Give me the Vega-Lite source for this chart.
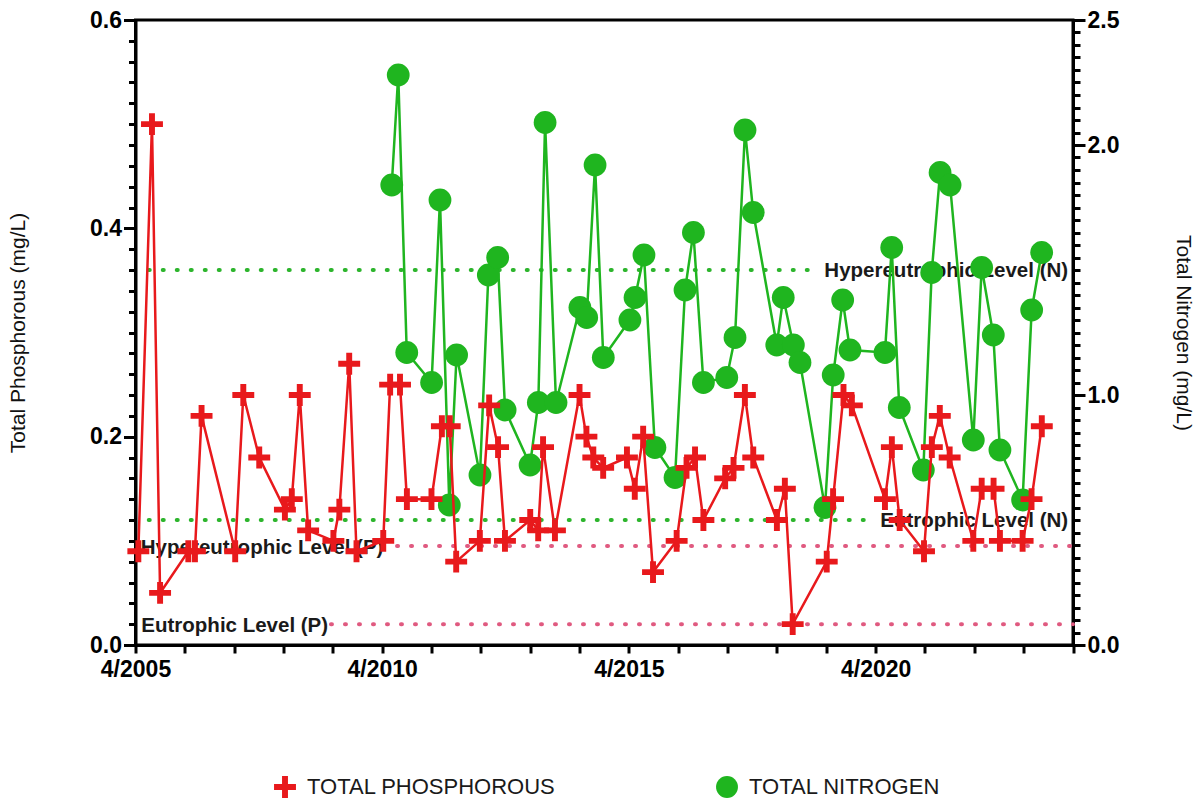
{
  "$schema": "https://vega.github.io/schema/vega-lite/v6.json",
  "width": 937.5,
  "height": 625,
  "autosize": {"type": "none"},
  "padding": {"left": 135.5, "top": 20, "right": 124.5, "bottom": 157},
  "background": "white",
  "config": {
    "font": "Liberation Sans",
    "view": {"stroke": "black", "strokeWidth": 3},
    "axis": {"grid": false},
    "legend": {
      "labelFontSize": 22,
      "labelFont": "Liberation Sans",
      "labelColor": "#1a1a1a",
      "symbolSize": 480,
      "columnPadding": 160,
      "labelOffset": 11,
      "padding": 0,
      "symbolStrokeWidth": 0,
      "labelLimit": 400
    }
  },
  "datasets": {
    "P": [
      {"date": "2005-04-22", "tp": 0.09, "s": "TOTAL PHOSPHOROUS"},
      {"date": "2005-08-01", "tp": 0.50, "s": "TOTAL PHOSPHOROUS"},
      {"date": "2005-09-30", "tp": 0.05, "s": "TOTAL PHOSPHOROUS"},
      {"date": "2006-04-27", "tp": 0.09, "s": "TOTAL PHOSPHOROUS"},
      {"date": "2006-06-15", "tp": 0.09, "s": "TOTAL PHOSPHOROUS"},
      {"date": "2006-08-03", "tp": 0.22, "s": "TOTAL PHOSPHOROUS"},
      {"date": "2007-04-09", "tp": 0.09, "s": "TOTAL PHOSPHOROUS"},
      {"date": "2007-06-08", "tp": 0.24, "s": "TOTAL PHOSPHOROUS"},
      {"date": "2007-10-04", "tp": 0.18, "s": "TOTAL PHOSPHOROUS"},
      {"date": "2008-04-11", "tp": 0.13, "s": "TOTAL PHOSPHOROUS"},
      {"date": "2008-06-01", "tp": 0.14, "s": "TOTAL PHOSPHOROUS"},
      {"date": "2008-07-30", "tp": 0.24, "s": "TOTAL PHOSPHOROUS"},
      {"date": "2008-09-30", "tp": 0.11, "s": "TOTAL PHOSPHOROUS"},
      {"date": "2009-04-05", "tp": 0.10, "s": "TOTAL PHOSPHOROUS"},
      {"date": "2009-05-19", "tp": 0.13, "s": "TOTAL PHOSPHOROUS"},
      {"date": "2009-07-31", "tp": 0.27, "s": "TOTAL PHOSPHOROUS"},
      {"date": "2009-09-23", "tp": 0.09, "s": "TOTAL PHOSPHOROUS"},
      {"date": "2010-04-09", "tp": 0.10, "s": "TOTAL PHOSPHOROUS"},
      {"date": "2010-05-30", "tp": 0.25, "s": "TOTAL PHOSPHOROUS"},
      {"date": "2010-08-11", "tp": 0.25, "s": "TOTAL PHOSPHOROUS"},
      {"date": "2010-10-01", "tp": 0.14, "s": "TOTAL PHOSPHOROUS"},
      {"date": "2011-04-01", "tp": 0.14, "s": "TOTAL PHOSPHOROUS"},
      {"date": "2011-06-17", "tp": 0.21, "s": "TOTAL PHOSPHOROUS"},
      {"date": "2011-08-14", "tp": 0.21, "s": "TOTAL PHOSPHOROUS"},
      {"date": "2011-10-01", "tp": 0.08, "s": "TOTAL PHOSPHOROUS"},
      {"date": "2012-03-24", "tp": 0.10, "s": "TOTAL PHOSPHOROUS"},
      {"date": "2012-06-01", "tp": 0.23, "s": "TOTAL PHOSPHOROUS"},
      {"date": "2012-08-06", "tp": 0.19, "s": "TOTAL PHOSPHOROUS"},
      {"date": "2012-09-26", "tp": 0.10, "s": "TOTAL PHOSPHOROUS"},
      {"date": "2013-04-01", "tp": 0.12, "s": "TOTAL PHOSPHOROUS"},
      {"date": "2013-05-30", "tp": 0.11, "s": "TOTAL PHOSPHOROUS"},
      {"date": "2013-07-05", "tp": 0.19, "s": "TOTAL PHOSPHOROUS"},
      {"date": "2013-10-01", "tp": 0.11, "s": "TOTAL PHOSPHOROUS"},
      {"date": "2014-04-01", "tp": 0.24, "s": "TOTAL PHOSPHOROUS"},
      {"date": "2014-05-22", "tp": 0.20, "s": "TOTAL PHOSPHOROUS"},
      {"date": "2014-07-12", "tp": 0.18, "s": "TOTAL PHOSPHOROUS"},
      {"date": "2014-09-23", "tp": 0.17, "s": "TOTAL PHOSPHOROUS"},
      {"date": "2015-03-18", "tp": 0.18, "s": "TOTAL PHOSPHOROUS"},
      {"date": "2015-05-15", "tp": 0.15, "s": "TOTAL PHOSPHOROUS"},
      {"date": "2015-07-16", "tp": 0.20, "s": "TOTAL PHOSPHOROUS"},
      {"date": "2015-09-27", "tp": 0.07, "s": "TOTAL PHOSPHOROUS"},
      {"date": "2016-03-20", "tp": 0.10, "s": "TOTAL PHOSPHOROUS"},
      {"date": "2016-06-01", "tp": 0.17, "s": "TOTAL PHOSPHOROUS"},
      {"date": "2016-08-03", "tp": 0.18, "s": "TOTAL PHOSPHOROUS"},
      {"date": "2016-10-04", "tp": 0.12, "s": "TOTAL PHOSPHOROUS"},
      {"date": "2017-03-14", "tp": 0.16, "s": "TOTAL PHOSPHOROUS"},
      {"date": "2017-05-15", "tp": 0.17, "s": "TOTAL PHOSPHOROUS"},
      {"date": "2017-08-07", "tp": 0.24, "s": "TOTAL PHOSPHOROUS"},
      {"date": "2017-10-08", "tp": 0.18, "s": "TOTAL PHOSPHOROUS"},
      {"date": "2018-04-01", "tp": 0.12, "s": "TOTAL PHOSPHOROUS"},
      {"date": "2018-05-30", "tp": 0.15, "s": "TOTAL PHOSPHOROUS"},
      {"date": "2018-07-27", "tp": 0.02, "s": "TOTAL PHOSPHOROUS"},
      {"date": "2019-04-05", "tp": 0.08, "s": "TOTAL PHOSPHOROUS"},
      {"date": "2019-05-22", "tp": 0.14, "s": "TOTAL PHOSPHOROUS"},
      {"date": "2019-08-07", "tp": 0.24, "s": "TOTAL PHOSPHOROUS"},
      {"date": "2019-10-08", "tp": 0.23, "s": "TOTAL PHOSPHOROUS"},
      {"date": "2020-06-09", "tp": 0.14, "s": "TOTAL PHOSPHOROUS"},
      {"date": "2020-07-30", "tp": 0.19, "s": "TOTAL PHOSPHOROUS"},
      {"date": "2020-09-26", "tp": 0.12, "s": "TOTAL PHOSPHOROUS"},
      {"date": "2021-03-25", "tp": 0.09, "s": "TOTAL PHOSPHOROUS"},
      {"date": "2021-05-22", "tp": 0.19, "s": "TOTAL PHOSPHOROUS"},
      {"date": "2021-07-20", "tp": 0.22, "s": "TOTAL PHOSPHOROUS"},
      {"date": "2021-10-01", "tp": 0.18, "s": "TOTAL PHOSPHOROUS"},
      {"date": "2022-03-25", "tp": 0.10, "s": "TOTAL PHOSPHOROUS"},
      {"date": "2022-05-26", "tp": 0.15, "s": "TOTAL PHOSPHOROUS"},
      {"date": "2022-08-22", "tp": 0.15, "s": "TOTAL PHOSPHOROUS"},
      {"date": "2022-10-08", "tp": 0.10, "s": "TOTAL PHOSPHOROUS"},
      {"date": "2023-03-25", "tp": 0.10, "s": "TOTAL PHOSPHOROUS"},
      {"date": "2023-05-30", "tp": 0.14, "s": "TOTAL PHOSPHOROUS"},
      {"date": "2023-08-14", "tp": 0.21, "s": "TOTAL PHOSPHOROUS"}
    ],
    "N": [
      {"date": "2010-06-11", "tn": 1.84, "s": "TOTAL NITROGEN"},
      {"date": "2010-07-29", "tn": 2.28, "s": "TOTAL NITROGEN"},
      {"date": "2010-09-30", "tn": 1.17, "s": "TOTAL NITROGEN"},
      {"date": "2011-04-02", "tn": 1.05, "s": "TOTAL NITROGEN"},
      {"date": "2011-06-03", "tn": 1.78, "s": "TOTAL NITROGEN"},
      {"date": "2011-08-11", "tn": 0.56, "s": "TOTAL NITROGEN"},
      {"date": "2011-10-04", "tn": 1.16, "s": "TOTAL NITROGEN"},
      {"date": "2012-03-25", "tn": 0.68, "s": "TOTAL NITROGEN"},
      {"date": "2012-05-26", "tn": 1.48, "s": "TOTAL NITROGEN"},
      {"date": "2012-08-03", "tn": 1.55, "s": "TOTAL NITROGEN"},
      {"date": "2012-09-27", "tn": 0.94, "s": "TOTAL NITROGEN"},
      {"date": "2013-03-31", "tn": 0.72, "s": "TOTAL NITROGEN"},
      {"date": "2013-05-31", "tn": 0.97, "s": "TOTAL NITROGEN"},
      {"date": "2013-07-20", "tn": 2.09, "s": "TOTAL NITROGEN"},
      {"date": "2013-10-09", "tn": 0.97, "s": "TOTAL NITROGEN"},
      {"date": "2014-04-04", "tn": 1.35, "s": "TOTAL NITROGEN"},
      {"date": "2014-05-24", "tn": 1.31, "s": "TOTAL NITROGEN"},
      {"date": "2014-07-25", "tn": 1.92, "s": "TOTAL NITROGEN"},
      {"date": "2014-09-24", "tn": 1.15, "s": "TOTAL NITROGEN"},
      {"date": "2015-04-09", "tn": 1.30, "s": "TOTAL NITROGEN"},
      {"date": "2015-05-17", "tn": 1.39, "s": "TOTAL NITROGEN"},
      {"date": "2015-07-22", "tn": 1.56, "s": "TOTAL NITROGEN"},
      {"date": "2015-10-11", "tn": 0.79, "s": "TOTAL NITROGEN"},
      {"date": "2016-03-08", "tn": 0.67, "s": "TOTAL NITROGEN"},
      {"date": "2016-05-21", "tn": 1.42, "s": "TOTAL NITROGEN"},
      {"date": "2016-07-22", "tn": 1.65, "s": "TOTAL NITROGEN"},
      {"date": "2016-10-04", "tn": 1.05, "s": "TOTAL NITROGEN"},
      {"date": "2017-03-26", "tn": 1.07, "s": "TOTAL NITROGEN"},
      {"date": "2017-05-26", "tn": 1.23, "s": "TOTAL NITROGEN"},
      {"date": "2017-08-08", "tn": 2.06, "s": "TOTAL NITROGEN"},
      {"date": "2017-10-08", "tn": 1.73, "s": "TOTAL NITROGEN"},
      {"date": "2018-03-31", "tn": 1.20, "s": "TOTAL NITROGEN"},
      {"date": "2018-05-18", "tn": 1.39, "s": "TOTAL NITROGEN"},
      {"date": "2018-08-01", "tn": 1.20, "s": "TOTAL NITROGEN"},
      {"date": "2018-09-19", "tn": 1.13, "s": "TOTAL NITROGEN"},
      {"date": "2019-03-23", "tn": 0.55, "s": "TOTAL NITROGEN"},
      {"date": "2019-05-23", "tn": 1.08, "s": "TOTAL NITROGEN"},
      {"date": "2019-08-01", "tn": 1.38, "s": "TOTAL NITROGEN"},
      {"date": "2019-09-24", "tn": 1.18, "s": "TOTAL NITROGEN"},
      {"date": "2020-06-09", "tn": 1.17, "s": "TOTAL NITROGEN"},
      {"date": "2020-07-29", "tn": 1.59, "s": "TOTAL NITROGEN"},
      {"date": "2020-09-23", "tn": 0.95, "s": "TOTAL NITROGEN"},
      {"date": "2021-03-20", "tn": 0.70, "s": "TOTAL NITROGEN"},
      {"date": "2021-05-21", "tn": 1.49, "s": "TOTAL NITROGEN"},
      {"date": "2021-07-22", "tn": 1.89, "s": "TOTAL NITROGEN"},
      {"date": "2021-10-04", "tn": 1.84, "s": "TOTAL NITROGEN"},
      {"date": "2022-03-25", "tn": 0.82, "s": "TOTAL NITROGEN"},
      {"date": "2022-05-26", "tn": 1.51, "s": "TOTAL NITROGEN"},
      {"date": "2022-08-20", "tn": 1.24, "s": "TOTAL NITROGEN"},
      {"date": "2022-10-08", "tn": 0.78, "s": "TOTAL NITROGEN"},
      {"date": "2023-03-25", "tn": 0.58, "s": "TOTAL NITROGEN"},
      {"date": "2023-05-31", "tn": 1.34, "s": "TOTAL NITROGEN"},
      {"date": "2023-08-13", "tn": 1.57, "s": "TOTAL NITROGEN"}
    ],
    "pLevels": [
      {"date": "2010-07-20", "end": "2024-04-01", "v": 0.095},
      {"date": "2009-03-18", "end": "2024-04-01", "v": 0.02}
    ],
    "pLabels": [
      {"date": "2005-05-10", "v": 0.095, "label": "Hypereutrophic Level (P)"},
      {"date": "2005-05-14", "v": 0.02, "label": "Eutrophic Level (P)"}
    ],
    "nLevels": [
      {"date": "2005-07-08", "end": "2019-01-20", "v": 1.5},
      {"date": "2005-07-08", "end": "2020-04-05", "v": 0.5}
    ],
    "nLabels": [
      {"date": "2024-02-25", "v": 1.5, "label": "Hypereutrophic Level (N)"},
      {"date": "2024-02-25", "v": 0.5, "label": "Eutrophic Level (N)"}
    ]
  },
  "encoding": {
    "x": {
      "field": "date",
      "type": "temporal",
      "scale": {
        "type": "utc",
        "domain": [
          {"year": 2005, "month": 4, "date": 1, "utc": true},
          {"year": 2024, "month": 4, "date": 1, "utc": true}
        ]
      },
      "axis": {
        "values": [
          {"year": 2005, "month": 4, "date": 1, "utc": true},
          {"year": 2006, "month": 4, "date": 1, "utc": true},
          {"year": 2007, "month": 4, "date": 1, "utc": true},
          {"year": 2008, "month": 4, "date": 1, "utc": true},
          {"year": 2009, "month": 4, "date": 1, "utc": true},
          {"year": 2010, "month": 4, "date": 1, "utc": true},
          {"year": 2011, "month": 4, "date": 1, "utc": true},
          {"year": 2012, "month": 4, "date": 1, "utc": true},
          {"year": 2013, "month": 4, "date": 1, "utc": true},
          {"year": 2014, "month": 4, "date": 1, "utc": true},
          {"year": 2015, "month": 4, "date": 1, "utc": true},
          {"year": 2016, "month": 4, "date": 1, "utc": true},
          {"year": 2017, "month": 4, "date": 1, "utc": true},
          {"year": 2018, "month": 4, "date": 1, "utc": true},
          {"year": 2019, "month": 4, "date": 1, "utc": true},
          {"year": 2020, "month": 4, "date": 1, "utc": true},
          {"year": 2021, "month": 4, "date": 1, "utc": true},
          {"year": 2022, "month": 4, "date": 1, "utc": true},
          {"year": 2023, "month": 4, "date": 1, "utc": true},
          {"year": 2024, "month": 4, "date": 1, "utc": true}
        ],
        "labelExpr": "utcyear(datum.value) % 5 == 0 && utcyear(datum.value) < 2024 ? utcFormat(datum.value, '%-m/%Y') : ''",
        "tickSize": 8,
        "tickWidth": 3,
        "tickColor": "black",
        "domainColor": "black",
        "domainWidth": 3,
        "labelFontSize": 23,
        "labelFontWeight": "bold",
        "labelColor": "black",
        "labelPadding": 5,
        "labelFlush": false,
        "labelOverlap": false,
        "title": null,
        "grid": false
      }
    }
  },
  "layer": [
    {
      "encoding": {
        "y": {
          "field": "v",
          "type": "quantitative",
          "scale": {"domain": [0, 0.6], "nice": false, "zero": false},
          "axis": {
            "orient": "left",
            "values": [0, 0.02, 0.04, 0.06, 0.08, 0.1, 0.12, 0.14, 0.16, 0.18, 0.2, 0.22, 0.24, 0.26, 0.28, 0.3, 0.32, 0.34, 0.36, 0.38, 0.4, 0.42, 0.44, 0.46, 0.48, 0.5, 0.52, 0.54, 0.56, 0.58, 0.6],
            "labels": false,
            "domain": false,
            "tickSize": 7,
            "tickWidth": 3,
            "tickColor": "black",
            "title": null,
            "grid": false
          }
        }
      },
      "layer": [
        {
          "data": {"name": "pLevels"},
          "mark": {"type": "rule", "strokeWidth": 4, "strokeDash": [1, 13], "strokeCap": "round", "color": "#e05a80"},
          "encoding": {"x2": {"field": "end"}}
        },
        {
          "data": {"name": "pLabels"},
          "mark": {"type": "text", "align": "left", "baseline": "middle", "dy": 2, "fontSize": 20.5, "fontWeight": "bold", "color": "#1a1a1a"},
          "encoding": {"text": {"field": "label"}}
        }
      ]
    },
    {
      "encoding": {
        "y": {
          "field": "v",
          "type": "quantitative",
          "scale": {"domain": [0, 2.5], "nice": false, "zero": false},
          "axis": {
            "orient": "right",
            "values": [0, 0.05, 0.1, 0.15, 0.2, 0.25, 0.3, 0.35, 0.4, 0.45, 0.5, 0.55, 0.6, 0.65, 0.7, 0.75, 0.8, 0.85, 0.9, 0.95, 1, 1.05, 1.1, 1.15, 1.2, 1.25, 1.3, 1.35, 1.4, 1.45, 1.5, 1.55, 1.6, 1.65, 1.7, 1.75, 1.8, 1.85, 1.9, 1.95, 2, 2.05, 2.1, 2.15, 2.2, 2.25, 2.3, 2.35, 2.4, 2.45, 2.5],
            "labels": false,
            "domain": false,
            "tickSize": 7,
            "tickWidth": 3,
            "tickColor": "black",
            "title": null,
            "grid": false
          }
        }
      },
      "layer": [
        {
          "data": {"name": "nLevels"},
          "mark": {"type": "rule", "strokeWidth": 4, "strokeDash": [1, 13], "strokeCap": "round", "color": "#2db52d"},
          "encoding": {"x2": {"field": "end"}}
        },
        {
          "data": {"name": "nLabels"},
          "mark": {"type": "text", "align": "right", "baseline": "middle", "dy": 1, "fontSize": 20.5, "fontWeight": "bold", "color": "#1a1a1a"},
          "encoding": {"text": {"field": "label"}}
        }
      ]
    },
    {
      "data": {"name": "N"},
      "encoding": {
        "y": {
          "field": "tn",
          "type": "quantitative",
          "scale": {"domain": [0, 2.5], "nice": false, "zero": false},
          "axis": {
            "orient": "right",
            "values": [0, 1, 2, 2.5],
            "format": ".1f",
            "tickSize": 12,
            "tickWidth": 3,
            "tickColor": "black",
            "domainColor": "black",
            "domainWidth": 3,
            "labelFontSize": 23,
            "labelFontWeight": "bold",
            "labelColor": "black",
            "labelPadding": 2,
            "labelOverlap": false,
            "title": "Total Nitrogen (mg/L)",
            "titleFontSize": 21,
            "titleFontWeight": "normal",
            "titleColor": "#111111",
            "titleAngle": 90,
            "titleX": 109,
            "titleY": 312.5,
            "titleAlign": "center",
            "titleBaseline": "middle",
            "grid": false
          }
        }
      },
      "layer": [
        {"mark": {"type": "line", "color": "#1fb51f", "strokeWidth": 2.5}},
        {
          "mark": {"type": "point", "filled": true, "size": 520, "opacity": 1},
          "encoding": {
            "color": {
              "field": "s",
              "type": "nominal",
              "scale": {"domain": ["TOTAL PHOSPHOROUS", "TOTAL NITROGEN"], "range": ["#e8191c", "#1fb51f"]},
              "legend": {"orient": "none", "legendX": 138.5, "legendY": 756, "direction": "horizontal", "title": null}
            },
            "shape": {
              "field": "s",
              "type": "nominal",
              "scale": {"domain": ["TOTAL PHOSPHOROUS", "TOTAL NITROGEN"], "range": ["M-1,-0.27H-0.27V-1H0.27V-0.27H1V0.27H0.27V1H-0.27V0.27H-1Z", "circle"]},
              "legend": {"orient": "none", "legendX": 138.5, "legendY": 756, "direction": "horizontal", "title": null}
            }
          }
        }
      ]
    },
    {
      "data": {"name": "P"},
      "encoding": {
        "y": {
          "field": "tp",
          "type": "quantitative",
          "scale": {"domain": [0, 0.6], "nice": false, "zero": false},
          "axis": {
            "orient": "left",
            "values": [0, 0.2, 0.4, 0.6],
            "format": ".1f",
            "tickSize": 12,
            "tickWidth": 3,
            "tickColor": "black",
            "domainColor": "black",
            "domainWidth": 3,
            "labelFontSize": 23,
            "labelFontWeight": "bold",
            "labelColor": "black",
            "labelPadding": 2,
            "labelOverlap": false,
            "title": "Total Phosphorous (mg/L)",
            "titleFontSize": 21,
            "titleFontWeight": "normal",
            "titleColor": "#111111",
            "titleAngle": -90,
            "titleX": -117,
            "titleY": 312.5,
            "titleAlign": "center",
            "titleBaseline": "middle",
            "grid": false
          }
        }
      },
      "layer": [
        {"mark": {"type": "line", "color": "#e8191c", "strokeWidth": 2.5}},
        {
          "mark": {"type": "point", "filled": true, "size": 480, "opacity": 1},
          "encoding": {
            "color": {
              "field": "s",
              "type": "nominal",
              "scale": {"domain": ["TOTAL PHOSPHOROUS", "TOTAL NITROGEN"], "range": ["#e8191c", "#1fb51f"]},
              "legend": {"orient": "none", "legendX": 138.5, "legendY": 756, "direction": "horizontal", "title": null}
            },
            "shape": {
              "field": "s",
              "type": "nominal",
              "scale": {"domain": ["TOTAL PHOSPHOROUS", "TOTAL NITROGEN"], "range": ["M-1,-0.27H-0.27V-1H0.27V-0.27H1V0.27H0.27V1H-0.27V0.27H-1Z", "circle"]},
              "legend": {"orient": "none", "legendX": 138.5, "legendY": 756, "direction": "horizontal", "title": null}
            }
          }
        }
      ]
    }
  ],
  "resolve": {"scale": {"y": "independent"}}
}
